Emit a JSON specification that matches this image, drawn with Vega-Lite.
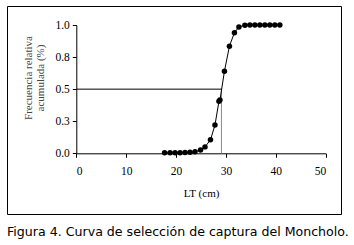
{
  "$schema": "https://vega.github.io/schema/vega-lite/v6.json",
  "autosize": {"type": "none"},
  "padding": {"left": 7, "top": 6, "right": 13, "bottom": 31},
  "width": 334,
  "height": 208,
  "background": "white",
  "config": {
    "view": {"stroke": "black", "strokeWidth": 1},
    "axis": {
      "grid": false,
      "domainColor": "black",
      "tickColor": "black",
      "labelColor": "black",
      "labelFont": "Liberation Serif",
      "labelFontSize": 11.5,
      "titleFont": "Liberation Serif",
      "titleFontSize": 11,
      "titleFontWeight": "normal",
      "titleColor": "black",
      "tickSize": 4
    }
  },
  "title": {
    "text": "Figura 4. Curva de selección de captura del Moncholo.",
    "orient": "bottom",
    "anchor": "start",
    "font": "DejaVu Sans",
    "fontSize": 12.6,
    "fontWeight": "normal",
    "color": "black",
    "baseline": "top",
    "offset": 12
  },
  "layer": [
    {
      "data": {"values": [{"x": 0, "x2": 29.2, "y": 0.5}]},
      "mark": {"type": "rule", "color": "black", "strokeWidth": 1},
      "encoding": {
        "x": {"field": "x", "type": "quantitative"},
        "x2": {"field": "x2"},
        "y": {"field": "y", "type": "quantitative"}
      }
    },
    {
      "data": {"values": [{"x": 29.1, "y": 0, "y2": 0.5}]},
      "mark": {"type": "rule", "color": "#8a8a8a", "strokeWidth": 1},
      "encoding": {
        "x": {"field": "x", "type": "quantitative"},
        "y": {"field": "y", "type": "quantitative"},
        "y2": {"field": "y2"}
      }
    },
    {
      "data": {"name": "pts", "values": [
        {"lt": 17.7, "f": 0.004},
        {"lt": 18.8, "f": 0.004},
        {"lt": 19.8, "f": 0.004},
        {"lt": 20.8, "f": 0.005},
        {"lt": 21.8, "f": 0.006},
        {"lt": 22.8, "f": 0.008},
        {"lt": 23.8, "f": 0.012},
        {"lt": 24.9, "f": 0.025},
        {"lt": 25.8, "f": 0.05},
        {"lt": 26.9, "f": 0.105},
        {"lt": 27.8, "f": 0.22},
        {"lt": 28.6, "f": 0.405},
        {"lt": 28.8, "f": 0.415},
        {"lt": 29.7, "f": 0.64},
        {"lt": 30.7, "f": 0.835},
        {"lt": 31.7, "f": 0.94},
        {"lt": 32.6, "f": 0.985},
        {"lt": 33.8, "f": 0.998},
        {"lt": 34.8, "f": 1.0},
        {"lt": 35.8, "f": 1.0},
        {"lt": 36.8, "f": 1.0},
        {"lt": 37.8, "f": 1.0},
        {"lt": 38.8, "f": 1.0},
        {"lt": 39.8, "f": 1.0},
        {"lt": 40.8, "f": 1.0}
      ]},
      "mark": {"type": "line", "color": "black", "strokeWidth": 1, "point": {"filled": true, "color": "black", "size": 30, "opacity": 1}},
      "encoding": {
        "x": {
          "field": "lt", "type": "quantitative",
          "scale": {"domain": [0, 50], "range": [69.3, 318.7], "nice": false, "zero": false},
          "axis": {
            "title": "LT (cm)",
            "values": [0, 10, 20, 30, 40, 50],
            "offset": -60.7,
            "labelPadding": 8,
            "titlePadding": 11
          }
        },
        "y": {
          "field": "f", "type": "quantitative",
          "scale": {"domain": [0, 1], "range": [147.3, 19], "nice": false, "zero": false},
          "axis": {
            "title": ["Frecuencia relativa", "acumulada (%)"],
            "values": [0, 0.25, 0.5, 0.75, 1],
            "format": ".1f",
            "offset": -69.3,
            "labelPadding": 3,
            "titlePadding": 9,
            "titleY": 71.5,
            "titleLineHeight": 12,
            "titleColor": "#444"
          }
        }
      }
    }
  ]
}
